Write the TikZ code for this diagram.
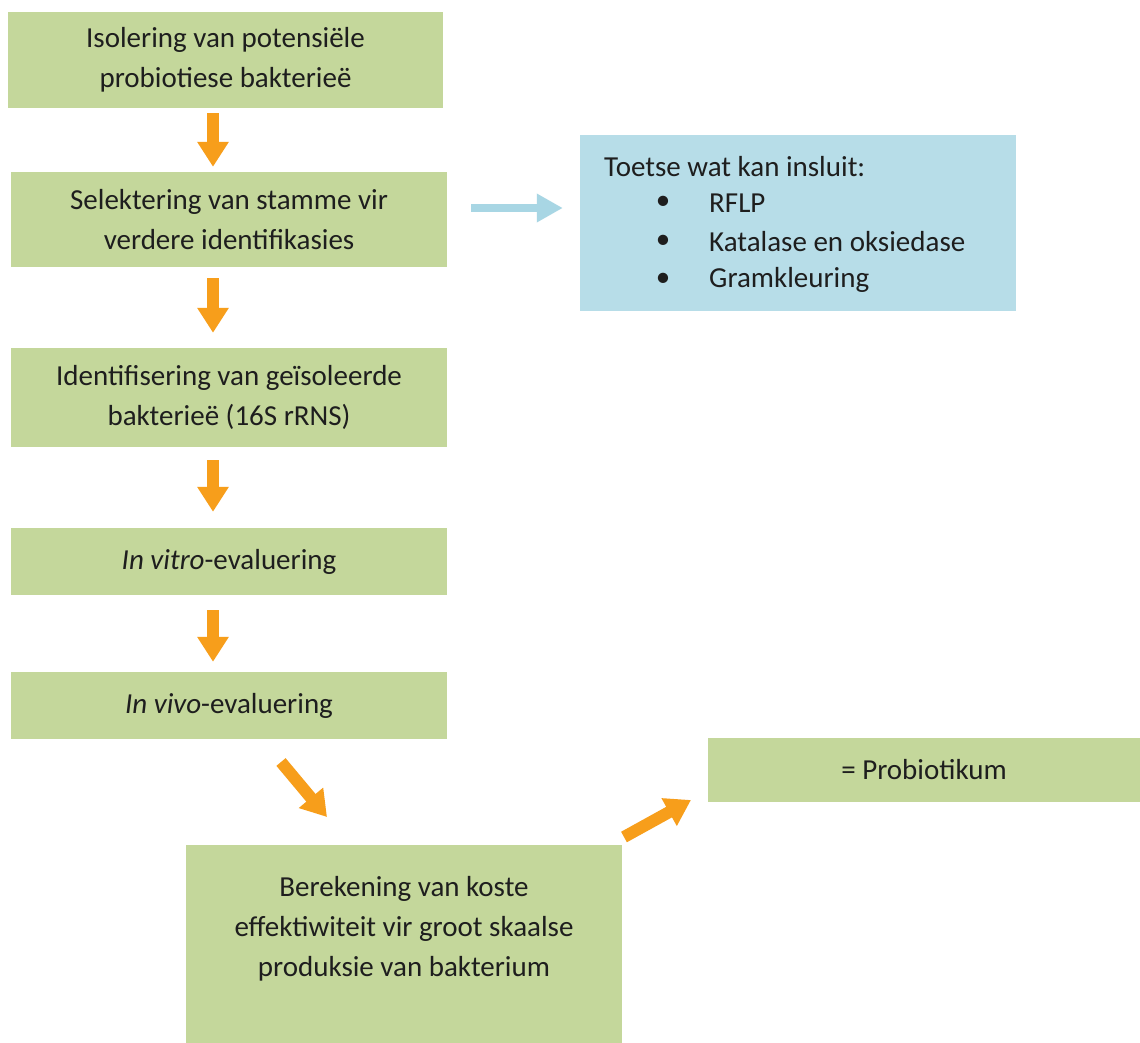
\documentclass[tikz,border=0pt]{standalone}
\usepackage{fontspec}
\setmainfont{Carlito}
\usetikzlibrary{arrows.meta}
\definecolor{boxgreen}{HTML}{C4D79B}
\definecolor{boxblue}{HTML}{B7DDE8}
\definecolor{arrorange}{HTML}{F79E1B}
\definecolor{arrblue}{HTML}{A8D6E4}
\definecolor{txt}{HTML}{1E1E1E}
\begin{document}
\begin{tikzpicture}[x=1pt,y=-1pt,
  greenbox/.style={fill=boxgreen, draw=none, inner sep=0pt, minimum width=436pt, align=center, text=txt, font=\fontsize{29}{40}\selectfont},
  bluebox/.style={fill=boxblue, draw=none, inner sep=0pt, minimum width=436pt, minimum height=176pt},
  plaintext/.style={inner sep=0pt, text=txt, font=\fontsize{29}{40}\selectfont},
  oarrow/.style={draw=arrorange, line width=12pt, -{Triangle[width=30pt,length=25pt]}},
  barrow/.style={draw=arrblue, line width=8pt, -{Triangle[width=27pt,length=26pt]}},
]
\useasboundingbox (0,0) rectangle (1140,1043);
\fill[white] (0,0) rectangle (1140,1043);

\node[greenbox, minimum width=435pt, minimum height=96pt] (b1) at (225.5,60) {Isolering van potensiële\\probiotiese bakterieë};
\node[greenbox, minimum height=95pt] (b2) at (229,219.5) {Selektering van stamme vir\\verdere identifikasies};
\node[greenbox, minimum height=99pt] (b3) at (229,397.5) {Identifisering van geïsoleerde\\bakterieë (16S rRNS)};
\node[greenbox, minimum height=67pt] (b4) at (229,561.5) {\textit{In vitro}-evaluering};
\node[greenbox, minimum height=67pt] (b5) at (229,705.5) {\textit{In vivo}-evaluering};
\node[greenbox, minimum height=198pt] (b6) at (404,944) {};
\node[plaintext, align=center] (b6t) at (404,929) {Berekening van koste\\effektiwiteit vir groot skaalse\\produksie van bakterium};
\node[greenbox, minimum width=432pt, minimum height=64pt] (prob) at (924,770) {= Probiotikum};

\node[bluebox] (blue) at (798,223) {};
\node[plaintext, anchor=west] (title) at (604,167) {Toetse wat kan insluit:};
\node[plaintext] (d1) at (663,203) {•};
\node[plaintext] (d2) at (663,242) {•};
\node[plaintext] (d3) at (663,280) {•};
\node[plaintext, anchor=west] (t1) at (709,203) {RFLP};
\node[plaintext, anchor=west] (t2) at (709,242) {Katalase en oksiedase};
\node[plaintext, anchor=west] (t3) at (709,280) {Gramkleuring};

\coordinate (ax) at (213,0);
\coordinate (by) at (0,208);
\coordinate (aAs) at (281,762);
\coordinate (aAe) at (327,817);
\coordinate (aBs) at (624,837);
\coordinate (aBe) at (691,800);

\draw[oarrow, shorten <=5pt, shorten >=5pt] (b1.south -| ax) -- (b2.north -| ax);
\draw[oarrow, shorten <=11pt, shorten >=15pt] (b2.south -| ax) -- (b3.north -| ax);
\draw[oarrow, shorten <=13pt, shorten >=16pt] (b3.south -| ax) -- (b4.north -| ax);
\draw[oarrow, shorten <=15pt, shorten >=10pt] (b4.south -| ax) -- (b5.north -| ax);
\draw[oarrow] (aAs) -- (aAe);
\draw[oarrow] (aBs) -- (aBe);
\draw[barrow, shorten <=24pt, shorten >=17pt] (b2.east |- by) -- (blue.west |- by);
\end{tikzpicture}
\end{document}
